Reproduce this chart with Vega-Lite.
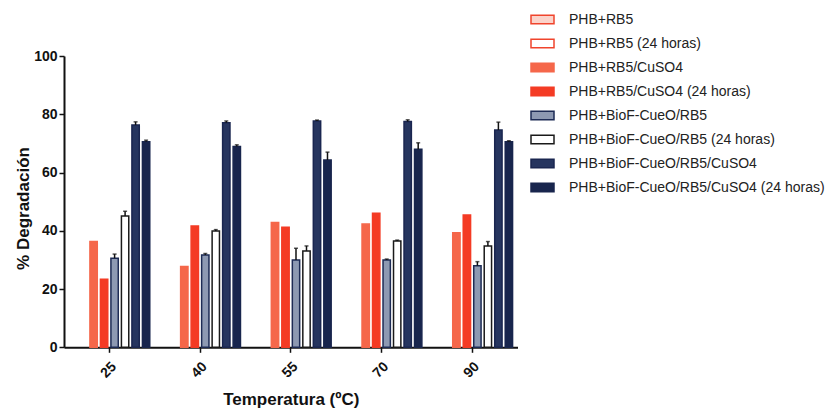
{
  "$schema": "https://vega.github.io/schema/vega-lite/v6.json",
  "autosize": {"type": "none"},
  "padding": {"left": 64, "top": 56, "right": 313.5, "bottom": 62.7},
  "width": 453.5,
  "height": 291.3,
  "background": "white",
  "config": {
    "view": {"stroke": null},
    "font": "Liberation Sans",
    "axis": {
      "domainColor": "#111",
      "domainWidth": 2,
      "tickColor": "#111",
      "tickWidth": 1.5,
      "tickSize": 5,
      "grid": false,
      "labelFont": "Liberation Sans",
      "labelFontWeight": "bold",
      "labelFontSize": 14,
      "labelColor": "#111",
      "titleFont": "Liberation Sans",
      "titleFontWeight": "bold",
      "titleFontSize": 17,
      "titleColor": "#111"
    },
    "legend": {
      "labelFont": "Liberation Sans",
      "labelFontSize": 14,
      "labelColor": "#222",
      "labelLimit": 320
    }
  },
  "data": {
    "values": [
      {"temp": "25", "series": "PHB+RB5/CuSO4", "value": 36.3, "hi": 36.3},
      {"temp": "25", "series": "PHB+RB5/CuSO4 (24 horas)", "value": 23.4, "hi": 23.4},
      {"temp": "25", "series": "PHB+BioF-CueO/RB5", "value": 30.6, "hi": 32.0},
      {"temp": "25", "series": "PHB+BioF-CueO/RB5 (24 horas)", "value": 45.1, "hi": 46.7},
      {"temp": "25", "series": "PHB+BioF-CueO/RB5/CuSO4", "value": 76.3, "hi": 77.4},
      {"temp": "25", "series": "PHB+BioF-CueO/RB5/CuSO4 (24 horas)", "value": 70.6, "hi": 71.1},
      {"temp": "40", "series": "PHB+RB5/CuSO4", "value": 27.7, "hi": 27.7},
      {"temp": "40", "series": "PHB+RB5/CuSO4 (24 horas)", "value": 41.6, "hi": 41.6},
      {"temp": "40", "series": "PHB+BioF-CueO/RB5", "value": 31.7, "hi": 32.2},
      {"temp": "40", "series": "PHB+BioF-CueO/RB5 (24 horas)", "value": 39.9, "hi": 40.4},
      {"temp": "40", "series": "PHB+BioF-CueO/RB5/CuSO4", "value": 77.1, "hi": 77.7},
      {"temp": "40", "series": "PHB+BioF-CueO/RB5/CuSO4 (24 horas)", "value": 68.9, "hi": 69.5},
      {"temp": "55", "series": "PHB+RB5/CuSO4", "value": 42.8, "hi": 42.8},
      {"temp": "55", "series": "PHB+RB5/CuSO4 (24 horas)", "value": 41.2, "hi": 41.2},
      {"temp": "55", "series": "PHB+BioF-CueO/RB5", "value": 30.0, "hi": 34.0},
      {"temp": "55", "series": "PHB+BioF-CueO/RB5 (24 horas)", "value": 33.1, "hi": 34.8},
      {"temp": "55", "series": "PHB+BioF-CueO/RB5/CuSO4", "value": 77.7, "hi": 78.0},
      {"temp": "55", "series": "PHB+BioF-CueO/RB5/CuSO4 (24 horas)", "value": 64.3, "hi": 67.0},
      {"temp": "70", "series": "PHB+RB5/CuSO4", "value": 42.3, "hi": 42.3},
      {"temp": "70", "series": "PHB+RB5/CuSO4 (24 horas)", "value": 46.0, "hi": 46.0},
      {"temp": "70", "series": "PHB+BioF-CueO/RB5", "value": 30.0, "hi": 30.3},
      {"temp": "70", "series": "PHB+BioF-CueO/RB5 (24 horas)", "value": 36.5, "hi": 36.8},
      {"temp": "70", "series": "PHB+BioF-CueO/RB5/CuSO4", "value": 77.5, "hi": 78.1},
      {"temp": "70", "series": "PHB+BioF-CueO/RB5/CuSO4 (24 horas)", "value": 68.0, "hi": 70.2},
      {"temp": "90", "series": "PHB+RB5/CuSO4", "value": 39.3, "hi": 39.3},
      {"temp": "90", "series": "PHB+RB5/CuSO4 (24 horas)", "value": 45.4, "hi": 45.4},
      {"temp": "90", "series": "PHB+BioF-CueO/RB5", "value": 28.0, "hi": 29.4},
      {"temp": "90", "series": "PHB+BioF-CueO/RB5 (24 horas)", "value": 34.8, "hi": 36.3},
      {"temp": "90", "series": "PHB+BioF-CueO/RB5/CuSO4", "value": 74.6, "hi": 77.3},
      {"temp": "90", "series": "PHB+BioF-CueO/RB5/CuSO4 (24 horas)", "value": 70.6, "hi": 70.9}
    ]
  },
  "encoding": {
    "x": {
      "field": "temp",
      "type": "nominal",
      "sort": ["25", "40", "55", "70", "90"],
      "scale": {"paddingInner": 0, "paddingOuter": 0},
      "axis": {
        "title": "Temperatura (ºC)",
        "labelAngle": -45,
        "labelPadding": 7,
        "titleY": 52.5,
        "titleBaseline": "middle"
      }
    },
    "xOffset": {
      "field": "series",
      "type": "nominal",
      "scale": {
        "domain": ["PHB+RB5", "PHB+RB5 (24 horas)", "PHB+RB5/CuSO4", "PHB+RB5/CuSO4 (24 horas)", "PHB+BioF-CueO/RB5", "PHB+BioF-CueO/RB5 (24 horas)", "PHB+BioF-CueO/RB5/CuSO4", "PHB+BioF-CueO/RB5/CuSO4 (24 horas)"],
        "paddingInner": 0.3,
        "paddingOuter": 0.47
      }
    }
  },
  "layer": [
    {
      "mark": {"type": "bar", "strokeWidth": 1.5},
      "encoding": {
        "y": {
          "field": "value",
          "type": "quantitative",
          "scale": {"domain": [0, 100]},
          "axis": {
            "title": "% Degradación",
            "values": [0, 20, 40, 60, 80, 100],
            "titleX": -41,
            "titleY": 152,
            "titleBaseline": "middle",
            "titleAlign": "center",
            "labelPadding": 2
          }
        },
        "fill": {
          "field": "series",
          "type": "nominal",
          "scale": {
            "domain": ["PHB+RB5", "PHB+RB5 (24 horas)", "PHB+RB5/CuSO4", "PHB+RB5/CuSO4 (24 horas)", "PHB+BioF-CueO/RB5", "PHB+BioF-CueO/RB5 (24 horas)", "PHB+BioF-CueO/RB5/CuSO4", "PHB+BioF-CueO/RB5/CuSO4 (24 horas)"],
            "range": ["#fbd3ca", "#ffffff", "#f5674a", "#f43b24", "#8d99b2", "#ffffff", "#26355f", "#18254d"]
          },
          "legend": {
            "title": null,
            "orient": "none",
            "legendX": 466,
            "legendY": -49,
            "padding": 0,
            "rowPadding": 4,
            "labelOffset": 14,
            "symbolType": "M-1,-0.36H1V0.36H-1Z",
            "symbolSize": 529,
            "symbolStrokeWidth": 1.5,
            "symbolOpacity": 1
          }
        },
        "stroke": {
          "field": "series",
          "type": "nominal",
          "scale": {
            "domain": ["PHB+RB5", "PHB+RB5 (24 horas)", "PHB+RB5/CuSO4", "PHB+RB5/CuSO4 (24 horas)", "PHB+BioF-CueO/RB5", "PHB+BioF-CueO/RB5 (24 horas)", "PHB+BioF-CueO/RB5/CuSO4", "PHB+BioF-CueO/RB5/CuSO4 (24 horas)"],
            "range": ["#f0442c", "#f0442c", "#f5674a", "#f43b24", "#1d2b55", "#1a1a1a", "#1a2650", "#18254d"]
          },
          "legend": null
        }
      }
    },
    {
      "transform": [{"filter": "datum.hi > datum.value"}],
      "mark": {"type": "rule", "color": "#111", "strokeWidth": 1.5},
      "encoding": {
        "y": {"field": "value", "type": "quantitative"},
        "y2": {"field": "hi"}
      }
    },
    {
      "transform": [{"filter": "datum.hi > datum.value"}],
      "mark": {"type": "tick", "color": "#111", "thickness": 1.5, "size": 4},
      "encoding": {
        "y": {"field": "hi", "type": "quantitative"}
      }
    }
  ]
}
